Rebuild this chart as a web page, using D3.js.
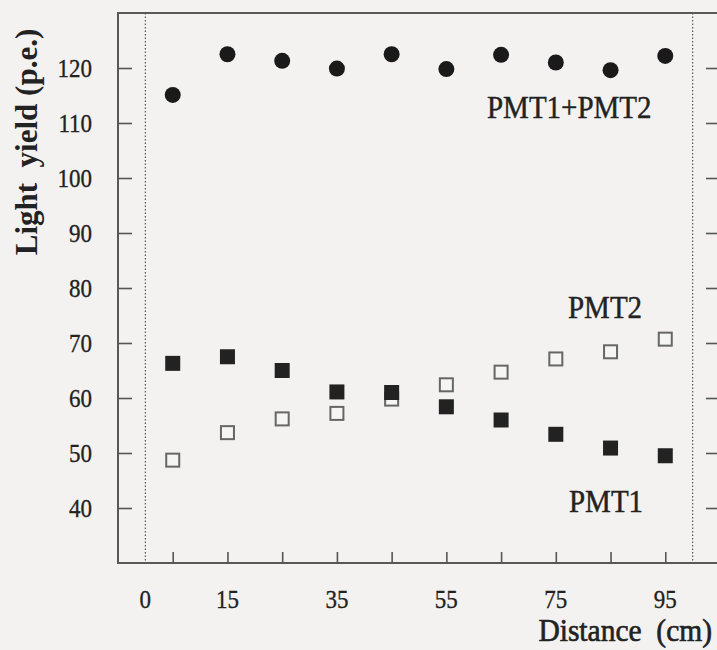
<!DOCTYPE html>
<html><head><meta charset="utf-8">
<script src="https://cdn.jsdelivr.net/npm/d3@7"></script>
<style>
body{margin:0;background:#f3f2f0;}
text{font-family:"Liberation Serif","Times New Roman",serif;fill:#222;}
</style>
</head><body><svg id="c" width="717" height="650"></svg>
<script>
const distance=[5,15,25,35,45,55,65,75,85,95];
const pmtSum=[115.1,122.5,121.3,119.9,122.5,119.8,122.4,121.0,119.6,122.2];
const pmt1=[66.3,67.5,65.0,61.1,61.0,58.4,56.0,53.4,50.9,49.5];
const pmt2=[48.7,53.7,56.2,57.2,59.8,62.4,64.7,67.1,68.4,70.7];
const xTickValues=[5,15,25,35,45,55,65,75,85,95];
const xLabelValues=[0,15,35,55,75,95];
const yTickValues=[40,50,60,70,80,90,100,110,120];

const svg=d3.select('#c');
svg.append('rect').attr('width',717).attr('height',650).attr('fill','#f3f2f0');
const L=118,R=720,T=13,B=563;
const x=d3.scaleLinear().domain([-5,105]).range([L,R]);
const y=d3.scaleLinear().domain([30,130]).range([B,T]);
const sy=1.1;
function stretch(sel){sel.each(function(){const t=d3.select(this);const yy=+t.attr('y')||0;t.attr('transform',`translate(0,${yy}) scale(1,${sy}) translate(0,${-yy})`);});}

// dotted lines
[0,100].forEach(v=>{
  svg.append('line').attr('x1',x(v)).attr('x2',x(v)).attr('y1',T).attr('y2',B)
    .attr('stroke','#555').attr('stroke-width',1.2).attr('stroke-dasharray','1.5,2');
});

// frame
svg.append('rect').attr('x',L).attr('y',T).attr('width',R-L).attr('height',B-T)
  .attr('fill','none').attr('stroke','#5a5856').attr('stroke-width',2);

const gl=svg.append('g').attr('transform',`translate(${L},0)`)
  .call(d3.axisLeft(y).tickValues(yTickValues).tickSize(-14).tickPadding(26));
gl.select('.domain').remove();
gl.selectAll('line').attr('stroke','#555').attr('stroke-width',1.6);
gl.selectAll('text').attr('font-size',23).attr('fill','#222').attr('stroke','#222').attr('stroke-width',0.3)
  .style('font-family','"Liberation Serif",serif').call(stretch);

const gr=svg.append('g').attr('transform',`translate(${R},0)`)
  .call(d3.axisRight(y).tickValues(yTickValues).tickSize(-14).tickFormat(''));
gr.select('.domain').remove();
gr.selectAll('line').attr('stroke','#555').attr('stroke-width',1.6);

const gb=svg.append('g').attr('transform',`translate(0,${B})`)
  .call(d3.axisBottom(x).tickValues(xTickValues).tickSize(-11).tickFormat(''));
gb.select('.domain').remove();
gb.selectAll('line').attr('stroke','#555').attr('stroke-width',1.6);

svg.append('g').selectAll('text').data(xLabelValues).join('text')
  .attr('x',d=>x(d)).attr('y',608).attr('text-anchor','middle').attr('font-size',23)
  .attr('stroke','#222').attr('stroke-width',0.3).text(d=>d).call(stretch);

// markers
svg.append('g').selectAll('rect').data(distance).join('rect')
  .attr('x',(d)=>x(d)-6.5).attr('y',(d,i)=>y(pmt2[i])-6.5).attr('width',13).attr('height',13)
  .attr('fill','#f5f5f3').attr('stroke','#666').attr('stroke-width',2);
svg.append('g').selectAll('rect').data(distance).join('rect')
  .attr('x',(d)=>x(d)-7.5).attr('y',(d,i)=>y(pmt1[i])-7.5).attr('width',15).attr('height',15)
  .attr('fill','#222');
svg.append('g').selectAll('circle').data(distance).join('circle')
  .attr('cx',d=>x(d)).attr('cy',(d,i)=>y(pmtSum[i])).attr('r',8).attr('fill','#1a1a1a');

// labels
const lab=[{t:'PMT1+PMT2',x:487,y:118},{t:'PMT2',x:568,y:318},{t:'PMT1',x:569,y:512}];
svg.append('g').selectAll('text').data(lab).join('text')
  .attr('x',d=>d.x).attr('y',d=>d.y).attr('font-size',29).attr('stroke','#222').attr('stroke-width',0.4).text(d=>d.t).call(stretch);

svg.append('text').attr('x',712).attr('y',641).attr('text-anchor','end').attr('font-size',29.5)
  .attr('stroke','#222').attr('stroke-width',0.6).style('white-space','pre').text('Distance  (cm)').call(stretch);

svg.append('text').attr('transform','translate(37,142) rotate(-90)').attr('text-anchor','middle')
  .attr('font-size',31).attr('font-weight','bold').style('white-space','pre').text('Light  yield (p.e.)');
</script>
</body></html>
